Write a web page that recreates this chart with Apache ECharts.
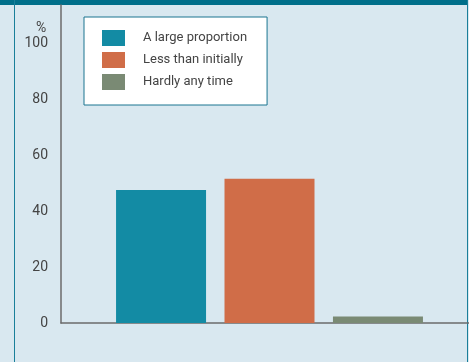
<!DOCTYPE html>
<html>
<head>
<meta charset="utf-8">
<script src="https://cdn.jsdelivr.net/npm/echarts@6/dist/echarts.min.js"></script>
<style>
  html, body { margin: 0; padding: 0; background: #d9e8f0; }
  #chart { width: 469px; height: 362px; }
</style>
</head>
<body>
<div id="chart"></div>
<script>
// Share of time, in percent
const categories = [''];
const seriesNames = ['A large proportion', 'Less than initially', 'Hardly any time'];
const seriesValues = [[47.5], [51.5], [2.3]];
const seriesColors = ['#138ba4', '#d06d48', '#7a8a74'];
const yTicks = [0, 20, 40, 60, 80, 100];

const chart = echarts.init(document.getElementById('chart'), null, { renderer: 'canvas' });
const labelFont = 'Roboto, "Liberation Sans", sans-serif';

chart.setOption({
  backgroundColor: '#d9e8f0',
  animation: false,
  grid: { left: 61, right: -9, top: 5, bottom: 39, containLabel: false, outerBoundsMode: 'none' },
  legend: {
    orient: 'vertical',
    left: 84,
    top: 17,
    padding: [13, 20, 15, 18],
    backgroundColor: '#ffffff',
    borderColor: '#1a7590',
    borderWidth: 1,
    borderRadius: 0,
    itemWidth: 23,
    itemHeight: 16,
    itemGap: 6,
    textStyle: { color: '#444', fontSize: 13, fontFamily: labelFont, padding: [0, 0, 0, 13] },
    icon: 'rect',
    data: seriesNames
  },
  xAxis: {
    type: 'category',
    data: categories,
    axisLine: { lineStyle: { color: '#6b6b6b', width: 1.5 } },
    axisTick: { show: false },
    axisLabel: { show: false }
  },
  yAxis: {
    type: 'value',
    min: 0,
    max: 113.6,
    interval: 20,
    axisLine: { show: true, lineStyle: { color: '#6b6b6b', width: 1.5 } },
    axisTick: { show: false },
    splitLine: { show: false },
    axisLabel: {
      color: '#444',
      fontSize: 14,
      fontFamily: labelFont,
      margin: 13,
      showMaxLabel: false,
      formatter: v => (yTicks.includes(v) ? String(v) : '')
    }
  },
  series: seriesNames.map((name, i) => ({
    name,
    type: 'bar',
    data: seriesValues[i],
    barWidth: 90,
    barGap: '20.5%',
    itemStyle: { color: seriesColors[i] }
  })),
  graphic: [
    { type: 'rect', left: 0, top: 0, shape: { width: 469, height: 5 }, style: { fill: '#006f8a' } },
    { type: 'rect', left: 14, top: 0, shape: { width: 1, height: 362 }, style: { fill: '#1a7f9a' } },
    { type: 'rect', left: 467, top: 0, shape: { width: 1, height: 362 }, style: { fill: '#1a7f9a' } },
    { type: 'rect', left: 468, top: 0, shape: { width: 1, height: 362 }, style: { fill: '#d9e8f0' } },
    { type: 'text', left: 36, top: 21, style: { text: '%', fill: '#444', font: '14px ' + labelFont } }
  ]
});
</script>
</body>
</html>
